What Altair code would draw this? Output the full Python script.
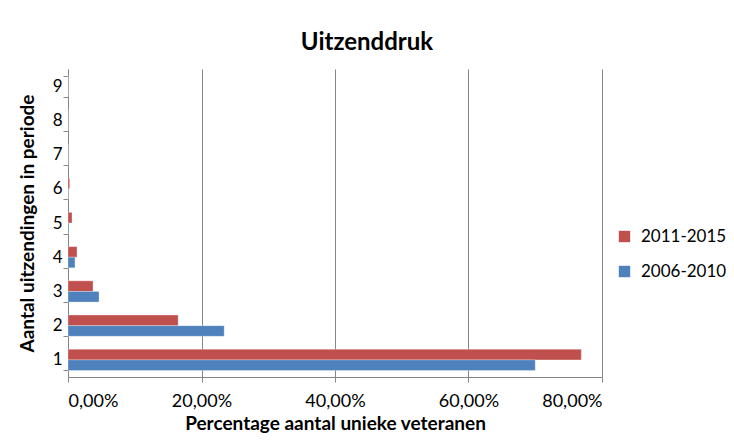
import altair as alt
import pandas as pd

categories = [1, 2, 3, 4, 5, 6, 7, 8, 9]
series_names = ["2011-2015", "2006-2010"]
values_2011_2015 = [0.769, 0.165, 0.0375, 0.0135, 0.006, 0.0025, 0.0, 0.0, 0.0]
values_2006_2010 = [0.700, 0.234, 0.0465, 0.0105, 0.0015, 0.0005, 0.0, 0.0, 0.0]
colors = ["#C0504D", "#4F81BD"]

rows = []
for c, a, b in zip(categories, values_2011_2015, values_2006_2010):
    rows.append({"cat": c, "series": series_names[0], "value": a})
    rows.append({"cat": c, "series": series_names[1], "value": b})
df = pd.DataFrame(rows)

FONT = "Lato"

chart = alt.Chart(df).mark_bar(stroke="white", strokeWidth=0.5, strokeOpacity=0.6).encode(
    y=alt.Y("cat:O", sort="descending",
            scale=alt.Scale(paddingInner=0.38, paddingOuter=0.19),
            axis=alt.Axis(title="Aantal uitzendingen in periode", tickBand="extent",
                          labelAngle=0, labelFontSize=17, labelPadding=1,
                          titleFontSize=19, titleFontWeight="bold", titlePadding=15,
                          tickSize=5, tickColor="#868686", domainColor="#868686",
                          labelColor="#000000", titleColor="#000000")),
    yOffset=alt.YOffset("series:N", sort=series_names, scale=alt.Scale(paddingInner=0, paddingOuter=0)),
    x=alt.X("value:Q", scale=alt.Scale(domain=[0, 0.8], nice=False),
            axis=alt.Axis(title="Percentage aantal unieke veteranen", values=[0, 0.2, 0.4, 0.6, 0.8],
                          labelExpr="replace(format(datum.value, '.2%'), '.', ',')",
                          labelFontSize=18, labelPadding=10, titleFontSize=19, titleFontWeight="bold",
                          titlePadding=4, tickSize=5, tickColor="#868686", domainColor="#868686",
                          gridColor="#868686", grid=True, labelColor="#000000", titleColor="#000000")),
    color=alt.Color("series:N", sort=series_names,
                    scale=alt.Scale(domain=series_names, range=colors),
                    legend=alt.Legend(title=None, orient="none", legendX=548, legendY=159,
                                      symbolType="square", symbolSize=130, symbolStrokeWidth=0,
                                      labelFontSize=17, rowPadding=17, labelOffset=8,
                                      labelColor="#000000")),
).properties(
    width=534, height=308,
    title=alt.TitleParams("Uitzenddruk", fontSize=24, fontWeight="bold", anchor="middle",
                          dx=32, offset=5, color="#000000", font=FONT),
    autosize=alt.AutoSizeParams(type="none"),
    padding={"left": 60, "top": 61, "right": 124, "bottom": 60},
).configure(
    font=FONT,
).configure_view(
    stroke=None
).configure_axisY(grid=False)

chart.save("out.html", embed_options={"renderer": "svg", "actions": False})
